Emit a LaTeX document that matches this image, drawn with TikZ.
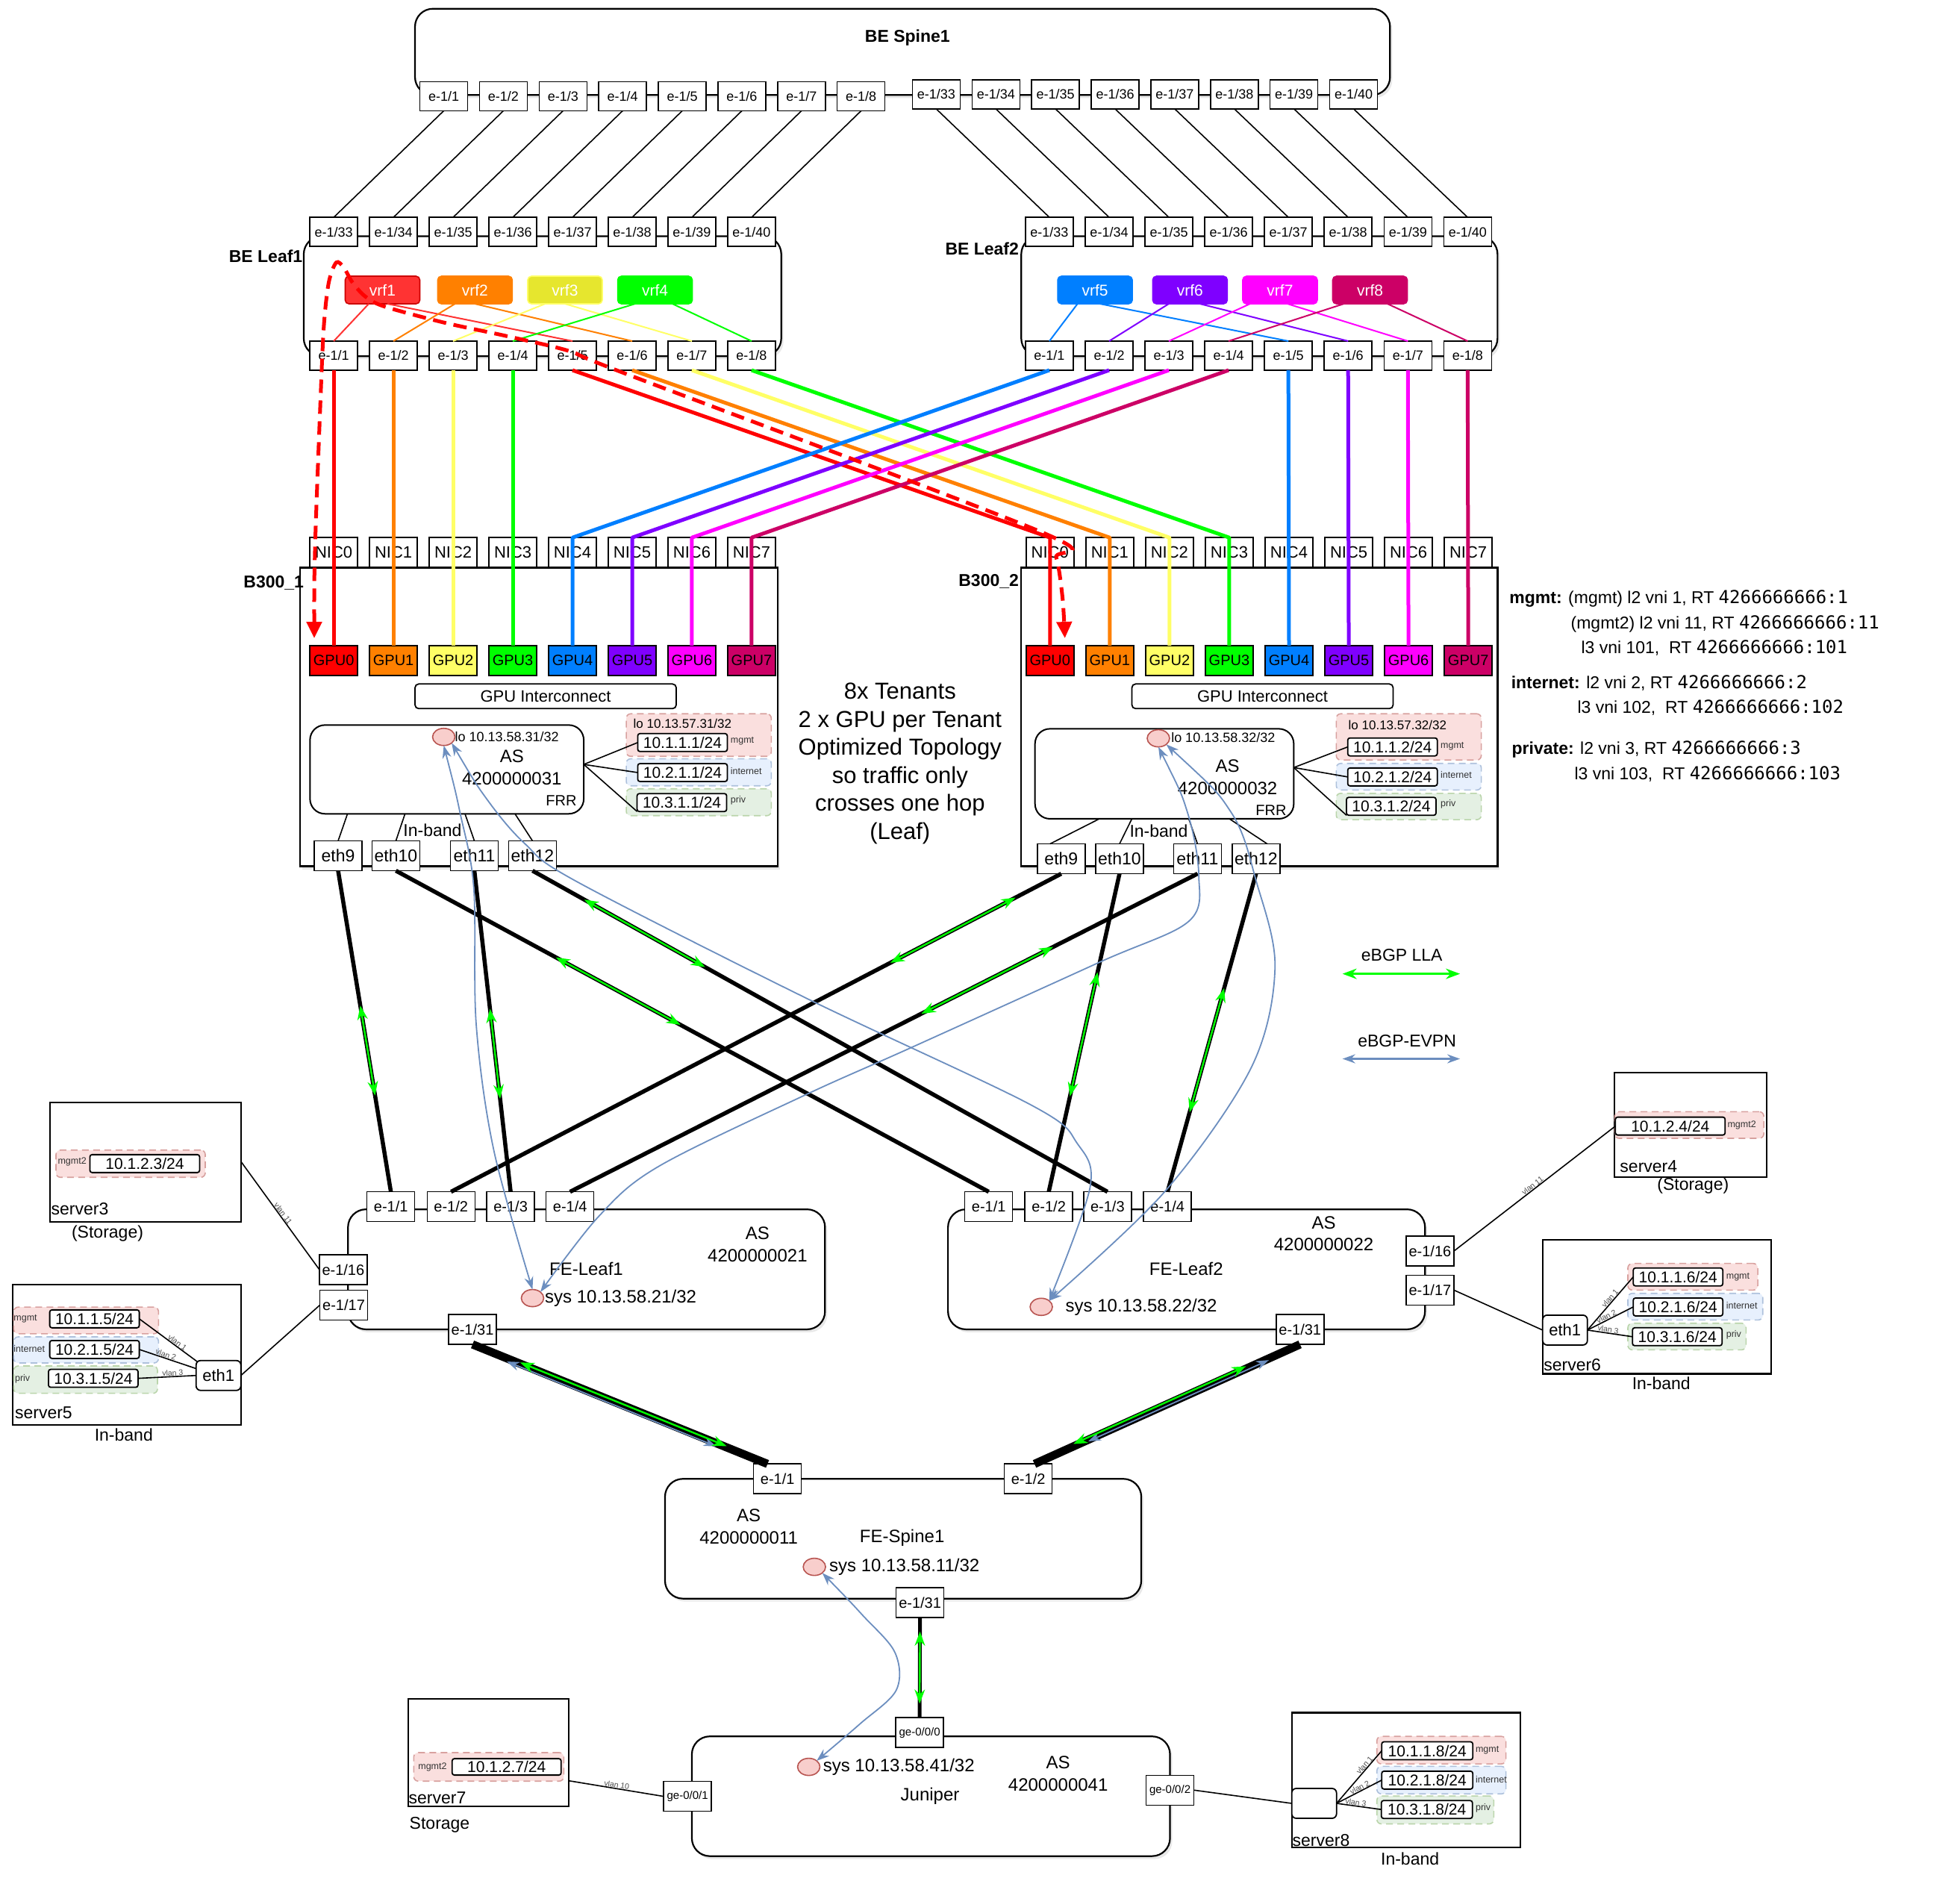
\documentclass[tikz,border=0pt]{standalone}
\usepackage{fontspec}
\setmainfont{Liberation Sans}
\newfontfamily\rtmono{DejaVu Sans Mono}
\usetikzlibrary{arrows.meta,calc,fit,shapes.geometric,shadows}
\newcommand{\setfs}[1]{\fontsize{#1}{#1}\selectfont}
\newcommand{\rtnum}[1]{{\rtmono\fontsize{24}{24}\selectfont #1}}
\definecolor{cRed}{HTML}{FF0000}
\definecolor{cOrange}{HTML}{FF8000}
\definecolor{cYellow}{HTML}{FFFF66}
\definecolor{cGreen}{HTML}{00FF00}
\definecolor{cBlue}{HTML}{007FFF}
\definecolor{cPurple}{HTML}{7F00FF}
\definecolor{cMagenta}{HTML}{FF00FF}
\definecolor{cCrimson}{HTML}{CC0066}
\definecolor{cLLA}{HTML}{00FF00}
\definecolor{cEVPN}{HTML}{6C8EBF}
\definecolor{mgF}{HTML}{F8CECC}
\definecolor{mgB}{HTML}{B85450}
\definecolor{inF}{HTML}{DAE8FC}
\definecolor{inB}{HTML}{6C8EBF}
\definecolor{prF}{HTML}{D5E8D4}
\definecolor{prB}{HTML}{82B366}
\definecolor{vrfRed}{HTML}{FF3333}
\definecolor{vrfYel}{HTML}{E6E62E}
\begin{document}
\begin{tikzpicture}[x=1.6747pt,y=-1.6747pt,
  every node/.style={inner sep=0pt,outer sep=0pt},
  prt/.style={draw,fill=white,line width=1.5pt,minimum width=64pt,minimum height=39pt,font=\setfs{18}},
  fprt/.style={prt,minimum height=40pt,font=\setfs{20}},
  jprt/.style={prt,minimum height=40pt,font=\setfs{15}},
  nicbox/.style={prt,minimum height=40pt,font=\setfs{22}},
  ethbox/.style={prt,minimum height=40pt,font=\setfs{23}},
  gpubox/.style={draw,line width=2.2pt,minimum width=64pt,minimum height=40pt,font=\setfs{20}},
  vrfbox/.style={rounded corners=5pt,minimum width=100pt,minimum height=37pt,text=white,font=\setfs{21},line width=1.6pt},
  bigbox/.style={draw,fill=white,line width=2.2pt,rounded corners=24pt,drop shadow={shadow xshift=3pt,shadow yshift=-4pt,opacity=0.18}},
  hostbox/.style={draw,fill=white,line width=2.4pt,drop shadow={shadow xshift=3pt,shadow yshift=-4pt,opacity=0.18}},
  frrbox/.style={draw,fill=white,line width=2pt,rounded corners=20pt},
  srvbox/.style={draw,fill=white,line width=2.2pt},
  gibox/.style={draw,fill=white,line width=1.8pt,rounded corners=5pt,minimum width=350pt,minimum height=33pt,font=\setfs{22}},
  grpM/.style={draw=mgB!55,fill=mgF!65,line width=1.6pt,dash pattern=on 9pt off 6pt,rounded corners=6pt},
  grpI/.style={draw=inB!55,fill=inF!65,line width=1.6pt,dash pattern=on 9pt off 6pt,rounded corners=6pt},
  grpP/.style={draw=prB!55,fill=prF!65,line width=1.6pt,dash pattern=on 9pt off 6pt,rounded corners=6pt},
  addr/.style={draw,fill=white,line width=1.8pt,rounded corners=3pt,minimum width=120pt,minimum height=24pt,font=\setfs{21}},
  lo/.style={ellipse,draw=mgB,fill=mgF,line width=1.6pt,minimum width=30pt,minimum height=23pt},
  ethr/.style={draw,fill=white,line width=1.8pt,rounded corners=6pt,minimum width=60pt,minimum height=40pt,font=\setfs{22}},
  tiny/.style={font=\setfs{12.5},text=black!80},
  lbl/.style={font=\setfs{23}},
  blbl/.style={font=\bfseries\setfs{23}},
  big/.style={font=\setfs{24}},
  vlanl/.style={font=\setfs{10.5},text=black!70,sloped,above=1pt,pos=0.6},
  thinl/.style={line width=1.6pt},
  vrfl/.style={line width=2pt},
  gpul/.style={line width=5pt,line join=round},
  ethl/.style={line width=5.5pt},
  fatl/.style={line width=11pt},
  lla/.style={draw=cLLA,line width=2.4pt,{Stealth[length=19pt,width=14pt]}-{Stealth[length=19pt,width=14pt]}},
  evpn/.style={draw=cEVPN,line width=1.8pt,{Stealth[length=17pt,width=12pt]}-{Stealth[length=17pt,width=12pt]}},
  reddash/.style={draw=cRed,line width=5pt,dash pattern=on 18pt off 10pt,{Triangle[length=22pt,width=20pt]}-{Triangle[length=22pt,width=20pt]}}
]
\fill[white] (0,0) rectangle (1568,1504.7);
\useasboundingbox (0,0) rectangle (1568,1504.7);

% ---------------- big boxes
\node[bigbox,fit={(332,7) (1112,76)}] (spine) {};
\node[bigbox,fit={(243,189) (625,285)}] (leafA) {};
\node[bigbox,fit={(817,189) (1198,285)}] (leafB) {};
\node[hostbox,fit={(240,454) (622,693)}] (hostA) {};
\node[hostbox,fit={(817,454) (1198,693)}] (hostB) {};
\node[bigbox,fit={(278.4,967.4) (660,1063.4)}] (feA) {};
\node[bigbox,fit={(758.4,967.4) (1140,1063.4)}] (feB) {};
\node[bigbox,fit={(532,1183) (913,1278.8)}] (feS) {};
\node[bigbox,fit={(553.5,1389) (936,1484.8)}] (jun) {};

\node[blbl] (spineT) at (726,30) {BE Spine1};
\node[blbl,anchor=east] (leafAT) at (242,205) {BE Leaf1};
\node[blbl,anchor=east] (leafBT) at (815,199) {BE Leaf2};
\node[blbl,anchor=east] (hostAT) at (243,466) {B300\_1};
\node[blbl,anchor=east] (hostBT) at (815,465) {B300\_2};

% ---------------- spine / leaf ports
\foreach \k in {1,...,8}{
  \node[prt] (Sd\k) at ({355+47.7*(\k-1)},77) {e-1/\k};
  \node[prt] (LAd\k) at ({267+47.75*(\k-1)},284.5) {e-1/\k};
  \node[prt] (LBd\k) at ({839.5+47.8*(\k-1)},284.5) {e-1/\k};
}
\foreach \k in {33,...,40}{
  \node[prt] (Se\k) at ({749+47.7*(\k-33)},75.5) {e-1/\k};
  \node[prt] (LAu\k) at ({267+47.75*(\k-33)},185.5) {e-1/\k};
  \node[prt] (LBu\k) at ({839.5+47.8*(\k-33)},185.5) {e-1/\k};
}
\foreach \k in {1,...,8}{
  \pgfmathtruncatemacro\m{\k+32}
  \draw[thinl] (Sd\k.south) -- (LAu\m.north);
}
\foreach \k in {33,...,40}{\draw[thinl] (Se\k.south) -- (LBu\k.north);}

% ---------------- vrfs
\node[vrfbox,fill=vrfRed,draw=red!80!black] (vrf1) at (306,232) {vrf1};
\node[vrfbox,fill=cOrange,draw=cOrange] (vrf2) at (380,232) {vrf2};
\node[vrfbox,fill=vrfYel,draw=cYellow] (vrf3) at (452,232) {vrf3};
\node[vrfbox,fill=cGreen,draw=cGreen] (vrf4) at (524,232) {vrf4};
\node[vrfbox,fill=cBlue,draw=cBlue] (vrf5) at (876,232) {vrf5};
\node[vrfbox,fill=cPurple,draw=cPurple] (vrf6) at (952,232) {vrf6};
\node[vrfbox,fill=cMagenta,draw=cMagenta] (vrf7) at (1024,232) {vrf7};
\node[vrfbox,fill=cCrimson,draw=cCrimson] (vrf8) at (1096,232) {vrf8};
\foreach \v/\cl/\qa/\da/\qb/\db in {1/vrfRed/LAd1/-11/LAd5/4, 2/cOrange/LAd2/-16/LAd6/0, 3/cYellow/LAd3/-16/LAd7/0, 4/cGreen/LAd4/-16/LAd8/14, 5/cBlue/LBd1/-14/LBd5/4, 6/cPurple/LBd2/-17/LBd6/8, 7/cMagenta/LBd3/-24/LBd7/6, 8/cCrimson/LBd4/-21/LBd8/14}{
  \draw[vrfl,draw=\cl] ($(vrf\v.south)+(\da,0)$) -- (\qa.north);
  \draw[vrfl,draw=\cl] ($(vrf\v.south)+(\db,0)$) -- (\qb.north);
}

% ---------------- hosts: NICs, GPUs
\foreach \i/\cl in {0/cRed,1/cOrange,2/cYellow,3/cGreen,4/cBlue,5/cPurple,6/cMagenta,7/cCrimson}{
  \node[nicbox] (An\i) at ({267+47.75*\i},442) {NIC\i};
  \node[nicbox] (Bn\i) at ({840+47.8*\i},442) {NIC\i};
  \node[gpubox,fill=\cl] (Ag\i) at ({267+47.75*\i},528.5) {GPU\i};
  \node[gpubox,fill=\cl] (Bg\i) at ({840+47.8*\i},528.5) {GPU\i};
}
\node[gibox] (giA) at (436.5,557) {GPU Interconnect};
\node[gibox] (giB) at (1010,557) {GPU Interconnect};

\node[frrbox,fit={(248,580) (467,651)}] (frrA) {};
\node[frrbox,fit={(828,583) (1035,655)}] (frrB) {};
\node[lo] (Alo) at (355,589.5) {};
\node[lo] (Blo) at (926.7,590.6) {};
\node[anchor=west,font=\setfs{18}] (AloT) at (364,589.5) {lo 10.13.58.31/32};
\node[anchor=west,font=\setfs{18}] (BloT) at (937,590) {lo 10.13.58.32/32};
\node[big] (AasT) at (409.5,605) {AS};
\node[big] (AasN) at (409.5,623) {4200000031};
\node[font=\setfs{20}] (AfrrT) at (449,640.5) {FRR};
\node[big] (BasT) at (982,612.6) {AS};
\node[big] (BasN) at (982,630.5) {4200000032};
\node[font=\setfs{20}] (BfrrT) at (1016.8,648) {FRR};

% address groups host A
\node[grpM,fit={(501,571) (617,605)}] (AgM) {};
\node[grpI,fit={(501,607) (617,628.6)}] (AgI) {};
\node[grpP,fit={(501,631) (617,652.5)}] (AgP) {};
\node[font=\setfs{17}] (AloM) at (546,578.6) {lo 10.13.57.31/32};
\node[addr] (AaM) at (546,594) {10.1.1.1/24};
\node[addr] (AaI) at (546,618) {10.2.1.1/24};
\node[addr] (AaP) at (545.5,642) {10.3.1.1/24};
\node[tiny,anchor=west] (AlM) at (584.5,593) {mgmt};
\node[tiny,anchor=west] (AlI) at (584.5,617) {internet};
\node[tiny,anchor=west] (AlP) at (584.5,640) {priv};
\coordinate (AfrrE) at ($(frrA.east)+(0,-4)$);
\draw[thinl] (AfrrE) -- (AaM.west);
\draw[thinl] (AfrrE) -- (AaI.west);
\draw[thinl] (AfrrE) -- (AaP.south west);

% address groups host B
\node[grpM,fit={(1069,571) (1185,608)}] (BgM) {};
\node[grpI,fit={(1069,610.7) (1185,632)}] (BgI) {};
\node[grpP,fit={(1069,634.6) (1185,655.7)}] (BgP) {};
\node[font=\setfs{17}] (BloM) at (1118,580) {lo 10.13.57.32/32};
\node[addr] (BaM) at (1114,597.5) {10.1.1.2/24};
\node[addr] (BaI) at (1114,621.5) {10.2.1.2/24};
\node[addr] (BaP) at (1113,645) {10.3.1.2/24};
\node[tiny,anchor=west] (BlM) at (1152.5,597) {mgmt};
\node[tiny,anchor=west] (BlI) at (1152.5,620) {internet};
\node[tiny,anchor=west] (BlP) at (1152.5,643) {priv};
\coordinate (BfrrE) at ($(frrB.east)+(0,-5)$);
\draw[thinl] (BfrrE) -- (BaM.west);
\draw[thinl] (BfrrE) -- (BaI.west);
\draw[thinl] (BfrrE) -- (BaP.south west);

% eth ports
\node[ethbox] (Ae9) at (270.5,684.6) {eth9};
\node[ethbox] (Ae10) at (316.7,684.6) {eth10};
\node[ethbox] (Ae11) at (379.5,684.6) {eth11};
\node[ethbox] (Ae12) at (426,684.6) {eth12};
\node[ethbox] (Be9) at (849,687) {eth9};
\node[ethbox] (Be10) at (895.6,687) {eth10};
\node[ethbox] (Be11) at (958,687) {eth11};
\node[ethbox] (Be12) at (1004.8,687) {eth12};
\draw[thinl] ($(frrA.south)+(-79.5,0)$) -- (Ae9.north);
\draw[thinl] ($(frrA.south)+(-33.5,0)$) -- (Ae10.north);
\draw[thinl] ($(frrA.south)+(14.5,0)$) -- (Ae11.north);
\draw[thinl] ($(frrA.south)+(54.5,0)$) -- (Ae12.north);
\draw[thinl] ($(frrB.south)+(-52,0)$) -- ($(Be9.north)+(-9,0)$);
\draw[thinl] ($(frrB.south)+(-26,0)$) -- (Be10.north);
\draw[thinl] ($(frrB.south)+(19.5,0)$) -- (Be11.north);
\draw[thinl] ($(frrB.south)+(52,0)$) -- ($(Be12.north)+(9,0)$);
\node[lbl] (AinT) at (346,664) {In-band};
\node[lbl] (BinT) at (927,665) {In-band};

% ---------------- leaf -> GPU colored links
\foreach \k/\cl in {1/cRed,2/cOrange,3/cYellow,4/cGreen}{
  \pgfmathtruncatemacro\g{\k-1}
  \pgfmathtruncatemacro\m{\k+4}
  \draw[gpul,draw=\cl] (LAd\k.south) -- (Ag\g.north);
  \draw[gpul,draw=\cl] (LAd\m.south) -- (Bg\g.north |- Bn\g.north) -- (Bg\g.north);
}
\foreach \k/\cl in {1/cBlue,2/cPurple,3/cMagenta,4/cCrimson}{
  \pgfmathtruncatemacro\g{\k+3}
  \pgfmathtruncatemacro\m{\k+4}
  \draw[gpul,draw=\cl] (LBd\k.south) -- (Ag\g.north |- An\g.north) -- (Ag\g.north);
  \draw[gpul,draw=\cl] (LBd\m.south) -- (Bg\g.north);
}

% red dashed tenant path
\coordinate (rdA) at ($(Ag0.north west)+(3.5,-6)$);
\coordinate (rdB) at ($(Bg0.north west)+(31,-6)$);
\draw[reddash] plot[smooth,tension=0.5] coordinates {(rdA) (252,440) (256,330) (259,262) (263,226) (269,210) (275,214) (282,226) (292,237) (307,245) (355,258) (406,269) (456,281) (498,298) (834,426) (845,446) (850,478) (rdB)};

% ---------------- FE ports and texts
\node[fprt] (F1p1) at (312.7,965.3) {e-1/1};
\node[fprt] (F1p2) at (360.8,965.3) {e-1/2};
\node[fprt] (F1p3) at (408.5,965.3) {e-1/3};
\node[fprt] (F1p4) at (456,965.3) {e-1/4};
\node[fprt] (F1p16) at (274.6,1015.6) {e-1/16};
\node[fprt] (F1p17) at (275,1044) {e-1/17};
\node[fprt] (F1p31) at (378,1063.5) {e-1/31};
\node[fprt] (F2p1) at (791,965.3) {e-1/1};
\node[fprt] (F2p2) at (839,965.3) {e-1/2};
\node[fprt] (F2p3) at (886,965.3) {e-1/3};
\node[fprt] (F2p4) at (934,965.3) {e-1/4};
\node[fprt] (F2p16) at (1144,1000.8) {e-1/16};
\node[fprt] (F2p17) at (1144,1032) {e-1/17};
\node[fprt] (F2p31) at (1040,1063.5) {e-1/31};
\node[fprt] (FSp1) at (622,1183) {e-1/1};
\node[fprt] (FSp2) at (822.6,1183) {e-1/2};
\node[fprt] (FSp31) at (736,1282) {e-1/31};
\node[jprt] (J0) at (735.7,1386) {ge-0/0/0};
\node[jprt] (J1) at (550,1437) {ge-0/0/1};
\node[jprt] (J2) at (936,1432) {ge-0/0/2};

\node[big] (F1as) at (606,986.4) {AS};
\node[big] (F1asn) at (606,1004.7) {4200000021};
\node[big] (F1nm) at (469,1015) {FE-Leaf1};
\node[lo] (F1sys) at (426,1038.4) {};
\node[big,anchor=west] (F1sysT) at (436,1038.4) {sys 10.13.58.21/32};
\node[big] (F2as) at (1059,978) {AS};
\node[big] (F2asn) at (1059,995.5) {4200000022};
\node[big] (F2nm) at (949,1015) {FE-Leaf2};
\node[lo] (F2sys) at (833,1045.4) {};
\node[big,anchor=west] (F2sysT) at (852.5,1045.4) {sys 10.13.58.22/32};
\node[big] (FSas) at (599,1212.5) {AS};
\node[big] (FSasn) at (599,1230) {4200000011};
\node[big] (FSnm) at (721.7,1230) {FE-Spine1};
\node[lo] (FSsys) at (651.5,1253.4) {};
\node[big,anchor=west] (FSsysT) at (663.5,1253.4) {sys 10.13.58.11/32};
\node[lo] (Jsys) at (647,1413.4) {};
\node[big,anchor=west] (JsysT) at (658.5,1413.4) {sys 10.13.58.41/32};
\node[big] (Jas) at (846.5,1410) {AS};
\node[big] (Jasn) at (846.5,1428) {4200000041};
\node[big] (Jnm) at (744,1437) {Juniper};

% ---------------- host eth -> FE leaf links
\foreach \pa/\pb/\ts/\tf in {Ae9/F1p1/0.42/0.70, Ae10/F2p1/0.27/0.48, Ae11/F1p3/0.43/0.71, Ae12/F2p3/0.09/0.30, Be9/F1p2/0.075/0.28, Be10/F2p2/0.31/0.70, Be11/F1p4/0.23/0.44, Be12/F2p4/0.36/0.75}{
  \draw[ethl] (\pa.south) -- (\pb.north);
  \draw[lla] ($(\pa.south)!\ts!(\pb.north)$) -- ($(\pa.south)!\tf!(\pb.north)$);
}

% ---------------- FE leaf -> FE spine
\coordinate (FSp1t) at ($(FSp1.north)+(-8,0)$);
\coordinate (FSp2t) at ($(FSp2.north)+(5,0)$);
\draw[fatl] (F1p31.south) -- (FSp1t);
\draw[fatl] (F2p31.south) -- (FSp2t);
\draw[evpn] ($(F1p31.south)!0.12!(FSp1t)!4pt!270:(FSp1t)$) -- ($(F1p31.south)!0.83!(FSp1t)!4pt!270:(FSp1t)$);
\draw[lla] ($(F1p31.south)!0.16!(FSp1t)!1.5pt!90:(FSp1t)$) -- ($(F1p31.south)!0.86!(FSp1t)!1.5pt!90:(FSp1t)$);
\draw[evpn] ($(F2p31.south)!0.12!(FSp2t)!2pt!90:(FSp2t)$) -- ($(F2p31.south)!0.80!(FSp2t)!2pt!90:(FSp2t)$);
\draw[lla] ($(F2p31.south)!0.20!(FSp2t)!3pt!270:(FSp2t)$) -- ($(F2p31.south)!0.85!(FSp2t)!3pt!270:(FSp2t)$);
\draw[line width=5pt] (FSp31.south) -- (J0.north);
\draw[lla] ($(FSp31.south)!0.14!(J0.north)$) -- ($(FSp31.south)!0.86!(J0.north)$);

% ---------------- servers
% server3
\node[srvbox,fit={(39.8,881.8) (193,977.3)}] (srv3) {};
\node[lbl,anchor=west] (srv3t) at (41,967) {server3};
\node[lbl] (srv3s) at (86,986.8) {(Storage)};
\node[grpM,fit={(44.8,920) (164.2,941.8)}] (s3g) {};
\node[tiny] (s3l) at (57.7,929.5) {mgmt2};
\node[addr,minimum width=147pt] (s3a) at (115.8,930.8) {10.1.2.3/24};
\coordinate (s3c) at (193,929.5);
\draw[thinl] (s3c) -- node[vlanl,pos=0.5] (vl3) {vlan 11} (F1p16.west);
% server5
\node[srvbox,fit={(10,1027.4) (193,1140)}] (srv5) {};
\node[lbl,anchor=west] (srv5t) at (12,1130) {server5};
\node[lbl] (srv5s) at (99,1148) {In-band};
\node[grpM,fit={(11,1045.6) (126.8,1066.9)}] (s5gm) {};
\node[grpI,fit={(11,1069.4) (126.8,1090.3)}] (s5gi) {};
\node[grpP,fit={(11,1092.7) (126,1114.6)}] (s5gp) {};
\node[tiny,anchor=west] (s5lm) at (11,1055) {mgmt};
\node[tiny,anchor=west] (s5li) at (11,1079) {internet};
\node[tiny,anchor=west] (s5lp) at (12,1103) {priv};
\node[addr] (s5am) at (75.6,1055) {10.1.1.5/24};
\node[addr] (s5ai) at (75.6,1079.5) {10.2.1.5/24};
\node[addr] (s5ap) at (74.6,1102.6) {10.3.1.5/24};
\node[ethr] (s5eth) at (174.8,1100.3) {eth1};
\draw[thinl] (s5am.east) -- node[vlanl,pos=0.62] (vl51) {vlan 1} ($(s5eth.west)+(1,-11)$);
\draw[thinl] (s5ai.east) -- node[vlanl,pos=0.45] (vl52) {vlan 2} ($(s5eth.west)+(0,-5.5)$);
\draw[thinl] (s5ap.east) -- node[vlanl,pos=0.6] (vl53) {vlan 3} (s5eth.west);
\draw[thinl] (s5eth.east) -- (F1p17.west);
% server4
\node[srvbox,fit={(1291.4,857.9) (1413.2,941.5)}] (srv4) {};
\node[lbl,anchor=west] (srv4t) at (1296,933) {server4};
\node[lbl] (srv4s) at (1354.4,948.4) {(Storage)};
\node[grpM,fit={(1291.8,889.3) (1411,910.6)}] (s4g) {};
\node[addr,minimum width=147pt] (s4a) at (1336.2,900.8) {10.1.2.4/24};
\node[tiny,anchor=west] (s4l) at (1382,900) {mgmt2};
\draw[thinl] (F2p16.east) -- node[vlanl,pos=0.5] (vl4) {vlan 11} (s4a.west);
% server6
\node[srvbox,fit={(1234,991.6) (1417,1099)}] (srv6) {};
\node[lbl,anchor=west] (srv6t) at (1235,1091.6) {server6};
\node[lbl] (srv6s) at (1329,1106.7) {In-band};
\node[grpM,fit={(1302.3,1010.7) (1406.2,1032)}] (s6gm) {};
\node[grpI,fit={(1302.3,1034.6) (1410.2,1055.9)}] (s6gi) {};
\node[grpP,fit={(1302.3,1058.5) (1396.8,1079.8)}] (s6gp) {};
\node[addr] (s6am) at (1342.4,1021.5) {10.1.1.6/24};
\node[addr] (s6ai) at (1342.4,1045.5) {10.2.1.6/24};
\node[addr] (s6ap) at (1341.8,1069.3) {10.3.1.6/24};
\node[tiny,anchor=west] (s6lm) at (1381,1021.5) {mgmt};
\node[tiny,anchor=west] (s6li) at (1381,1044.5) {internet};
\node[tiny,anchor=west] (s6lp) at (1381,1067.5) {priv};
\node[ethr] (s6eth) at (1252,1064) {eth1};
\draw[thinl] (s6eth.east) -- node[vlanl,pos=0.55] (vl61) {vlan 1} (s6am.west);
\draw[thinl] (s6eth.east) -- node[vlanl,pos=0.45] (vl62) {vlan 2} (s6ai.west);
\draw[thinl] (s6eth.east) -- node[vlanl,pos=0.45] (vl63) {vlan 3} (s6ap.west);
\draw[thinl] (F2p17.east) -- (s6eth.west);
% server7
\node[srvbox,fit={(326.4,1359) (455,1445)}] (srv7) {};
\node[lbl,anchor=west] (srv7t) at (327,1438) {server7};
\node[lbl] (srv7s) at (351.7,1460) {Storage};
\node[grpM,fit={(331,1402) (451,1424.8)}] (s7g) {};
\node[tiny] (s7l) at (346,1413.4) {mgmt2};
\node[addr,minimum width=146pt,minimum height=22pt] (s7a) at (405.3,1413.4) {10.1.2.7/24};
\coordinate (s7c) at (455,1424.5);
\draw[thinl] (s7c) -- node[vlanl,pos=0.5] (vl7) {vlan 10} (J1.west);
% server8
\node[srvbox,fit={(1033.6,1370) (1216.4,1478)}] (srv8) {};
\node[lbl,anchor=west] (srv8t) at (1034,1472) {server8};
\node[lbl] (srv8s) at (1128,1487) {In-band};
\node[grpM,fit={(1101.5,1389) (1204.7,1411)}] (s8gm) {};
\node[grpI,fit={(1101.5,1413) (1204.7,1435)}] (s8gi) {};
\node[grpP,fit={(1101.5,1436.7) (1195,1459)}] (s8gp) {};
\node[addr,minimum width=122pt] (s8am) at (1141.8,1400.5) {10.1.1.8/24};
\node[addr,minimum width=122pt] (s8ai) at (1141.8,1424) {10.2.1.8/24};
\node[addr,minimum width=122pt] (s8ap) at (1141.5,1447.5) {10.3.1.8/24};
\node[tiny,anchor=west] (s8lm) at (1180.5,1400) {mgmt};
\node[tiny,anchor=west] (s8li) at (1180.5,1423.5) {internet};
\node[tiny,anchor=west] (s8lp) at (1180.5,1446.5) {priv};
\node[ethr] (s8eth) at (1051.3,1442.6) {};
\draw[thinl] (s8eth.east) -- node[vlanl,pos=0.68] (vl81) {vlan 1} (s8am.west);
\draw[thinl] (s8eth.east) -- node[vlanl,pos=0.55] (vl82) {vlan 2} (s8ai.west);
\draw[thinl] (s8eth.east) -- node[vlanl,pos=0.42] (vl83) {vlan 3} (s8ap.west);
\draw[thinl] (J2.east) -- (s8eth.west);

% ---------------- EVPN sessions
\draw[evpn] plot[smooth,tension=0.55] coordinates {(Alo.south) (368,650) (379,710) (381,820) (395,920) (F1sys.north)};
\draw[evpn] plot[smooth,tension=0.55] coordinates {(Alo.south east) (390,640) (420,675) (461,705) (644,798) (825,884) (862,915) (872,950) (F2sys.north east)};
\draw[evpn] plot[smooth,tension=0.55] coordinates {(Blo.south) (950,650) (959,700) (951,737) (879,770) (729,838) (644,876) (527,933) (479,973) (F1sys.north east)};
\draw[evpn] plot[smooth,tension=0.55] coordinates {(Blo.south east) (985,650) (1005,705) (1020,774) (1001,854) (932,953) (F2sys.north east)};
\draw[evpn] plot[smooth,tension=0.55] coordinates {(FSsys.south east) (690,1292) (716,1322) (717,1352) (688,1379) (Jsys.north east)};

% ---------------- texts / legends
\node[align=center,font=\fontsize{31}{37.5}\selectfont] (tenants) at (720,610.7) {8x Tenants\\2 x GPU per Tenant\\Optimized Topology\\so traffic only\\crosses one hop\\(Leaf)};

\node[anchor=base west,font=\setfs{23}] (lgA) at (1207.6,482.7) {\textbf{mgmt:} (mgmt) l2 vni 1, RT \rtnum{4266666666:1}};
\node[anchor=base west,font=\setfs{23}] (lgB) at (1256.7,503) {(mgmt2) l2 vni 11, RT \rtnum{4266666666:11}};
\node[anchor=base west,font=\setfs{23}] (lgC) at (1265,522.7) {l3 vni 101,\ \ RT \rtnum{4266666666:101}};
\node[anchor=base west,font=\setfs{23}] (lgD) at (1209,550.8) {\textbf{internet:} l2 vni 2, RT \rtnum{4266666666:2}};
\node[anchor=base west,font=\setfs{23}] (lgE) at (1262,570.5) {l3 vni 102,\ \ RT \rtnum{4266666666:102}};
\node[anchor=base west,font=\setfs{23}] (lgF) at (1209.5,603.3) {\textbf{private:} l2 vni 3, RT \rtnum{4266666666:3}};
\node[anchor=base west,font=\setfs{23}] (lgG) at (1259.6,623.6) {l3 vni 103,\ \ RT \rtnum{4266666666:103}};

\node[lbl] (lgt1) at (1121.5,764) {eBGP LLA};
\coordinate (lg1a) at (1074,779);
\coordinate (lg1b) at (1168,779);
\draw[lla] (lg1a) -- (lg1b);
\node[lbl] (lgt2) at (1125.6,833) {eBGP-EVPN};
\coordinate (lg2a) at (1074,847);
\coordinate (lg2b) at (1168,847);
\draw[evpn,line width=2.4pt] (lg2a) -- (lg2b);
\end{tikzpicture}
\end{document}
